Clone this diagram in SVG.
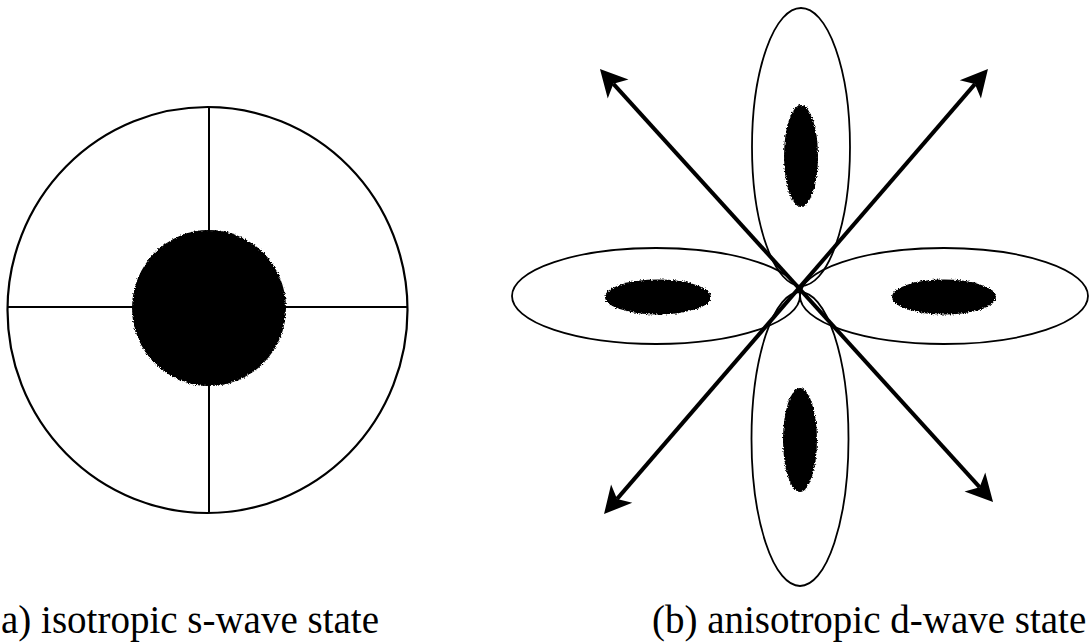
<svg xmlns="http://www.w3.org/2000/svg" width="1090" height="642" viewBox="0 0 1090 642">
  <style>
    .outline { fill: none; stroke: #000; stroke-width: 2.2; }
    .lobe { fill: none; stroke: #000; stroke-width: 1.8; }
    .blob { fill: #000; filter: url(#fuzz); }
    .axis { stroke: #000; stroke-width: 2; fill: none; }
    .arrow { stroke: #000; stroke-width: 4; fill: none; marker-start: url(#head); marker-end: url(#head); }
    .label { font-family: "Liberation Serif", "Times New Roman", serif; font-size: 39px; fill: #000; }
  </style>
  <defs>
    <filter id="fuzz" x="-10%" y="-10%" width="120%" height="120%">
      <feTurbulence type="fractalNoise" baseFrequency="0.7" numOctaves="2" seed="3" result="n"/>
      <feDisplacementMap in="SourceGraphic" in2="n" scale="4" xChannelSelector="R" yChannelSelector="G"/>
    </filter>
    <marker id="head" markerUnits="userSpaceOnUse" orient="auto-start-reverse" viewBox="-10 -15 32 30" refX="0" refY="0" markerWidth="32" markerHeight="30">
      <path d="M20,0 L-7,-14 L0,0 L-7,14 Z" fill="#000"/>
    </marker>
  </defs>
  <rect width="1090" height="642" fill="#fff"/>

  <g id="s-wave">
    <ellipse class="outline" cx="207.5" cy="310" rx="200" ry="203"/>
    <line class="axis" x1="209" y1="107" x2="209" y2="513"/>
    <line class="axis" x1="8" y1="307" x2="407" y2="307"/>
    <ellipse class="blob" cx="209" cy="308" rx="77" ry="78"/>
  </g>

  <g id="lobe-top">
    <ellipse class="lobe" cx="801" cy="147" rx="49" ry="139"/>
    <ellipse class="blob" cx="801" cy="156" rx="17" ry="51"/>
  </g>
  <g id="lobe-bottom">
    <ellipse class="lobe" cx="800" cy="439" rx="48.5" ry="147"/>
    <ellipse class="blob" cx="800" cy="440" rx="17" ry="52"/>
  </g>
  <g id="lobe-left">
    <ellipse class="lobe" cx="656" cy="296" rx="144" ry="48"/>
    <ellipse class="blob" cx="658" cy="297" rx="53" ry="17.5"/>
  </g>
  <g id="lobe-right">
    <ellipse class="lobe" cx="944" cy="296" rx="144" ry="48"/>
    <ellipse class="blob" cx="944" cy="297" rx="52" ry="17.5"/>
  </g>

  <g id="connectors">
    <line class="arrow" x1="613.4" y1="83.8" x2="979.6" y2="487.2"/>
    <line class="arrow" x1="974.9" y1="84.1" x2="617.1" y2="498.9"/>
  </g>

  <g id="labels">
    <text class="label" x="1" y="633">a) isotropic s-wave state</text>
    <text class="label" x="652" y="633">(b) anisotropic d-wave state</text>
  </g>
</svg>
